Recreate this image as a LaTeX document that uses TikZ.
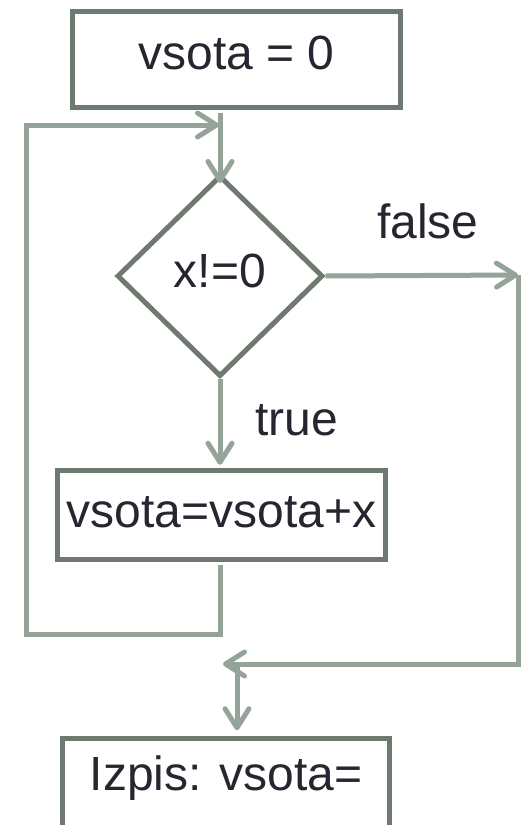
\documentclass[tikz,border=0pt]{standalone}
\usepackage{fontspec}
\setmainfont{Liberation Sans}
\usetikzlibrary{arrows.meta,shapes.geometric}
\definecolor{boxc}{RGB}{110,122,112}
\definecolor{linec}{RGB}{148,164,152}
\definecolor{txtc}{RGB}{38,38,48}
\begin{document}
\begin{tikzpicture}[x=1pt,y=-1pt,
  box/.style={draw=boxc, line width=5.5pt, fill=white, inner xsep=0pt, inner ysep=0pt,
    minimum width=328pt, text=txtc, font=\fontsize{48}{52}\selectfont, anchor=base},
  cond/.style={diamond, draw=boxc, line width=5pt, fill=white, inner sep=0pt,
    minimum width=206pt, minimum height=201pt, text=txtc, font=\fontsize{48}{52}\selectfont,
    text height=33pt, text depth=11pt},
  conn/.style={draw=linec, line width=5pt},
  arr/.style={conn, -{Straight Barb[length=19pt,width=24pt,round]}},
  lab/.style={text=txtc, font=\fontsize{48}{52}\selectfont, anchor=base, inner sep=0pt}]
\useasboundingbox (0,0) rectangle (523,825);
\fill[white] (0,0) rectangle (523,825);
% nodes
\node[box, text height=57.5pt, text depth=38.5pt] (init) at (236.5,69) {vsota = 0};
\node[cond] (dec) at (220,276) {x!=0};
\node[box, text height=56.5pt, text depth=32.5pt] (body) at (221.5,527) {vsota=vsota+x};
\node[box, minimum width=327pt, text height=51.5pt, text depth=60pt] (out) at (226,790) {Izpis: vsota=};
\node[lab] (tl) at (297,435) {true};
\node[lab] (fl) at (428,238) {false};
% helper coordinates
\coordinate (fR) at (518,275);
\coordinate (mTip) at (223,664);
\coordinate (mx) at (237,664);
\coordinate (loopL) at (26,634);
\coordinate (loopT) at (219,125);
% connectors
\draw[arr] ([yshift=-2.75pt]init.south -| dec.north) -- ([yshift=-10pt]dec.north);
\draw[arr] ([yshift=-2.75pt]body.south -| dec.south) |- (loopL) |- (loopT);
\draw[arr] (dec.south) -- ([yshift=3pt]dec.south |- body.north);
\draw[arr] (dec.east) -- (fR);
\draw[arr] (fR) |- (mTip);
\draw[arr] (mx) -- ([yshift=5.5pt]out.north -| mx);
\end{tikzpicture}
\end{document}
